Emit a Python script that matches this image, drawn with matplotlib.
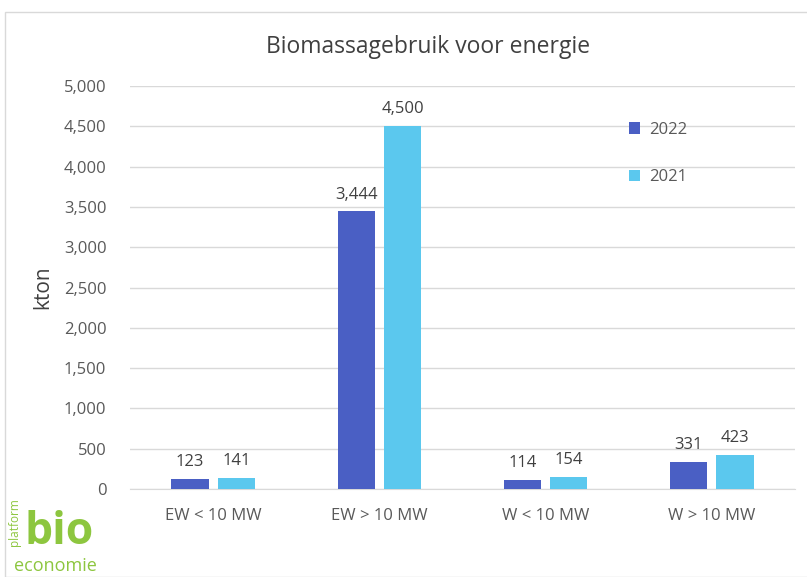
import matplotlib
matplotlib.use("Agg")
import matplotlib.pyplot as plt
from matplotlib.patches import Rectangle
from matplotlib.ticker import FuncFormatter
import numpy as np

categories = ["EW < 10 MW", "EW > 10 MW", "W < 10 MW", "W > 10 MW"]
values_2022 = [123, 3444, 114, 331]
values_2021 = [141, 4500, 154, 423]
series_labels = ["2022", "2021"]

plt.rcParams['font.family'] = ['Open Sans', 'DejaVu Sans']

fig = plt.figure(figsize=(8.07, 5.77), dpi=100)
fig.patches.append(Rectangle((5/807, 0), 1, 1 - 12/577, transform=fig.transFigure,
                             fill=False, edgecolor="#d9d9d9", linewidth=1))
ax = fig.add_axes([130/807, 1 - 489/577, 665/807, 403/577])

x = np.arange(len(categories))
w = 0.223
off = 0.139
b1 = ax.bar(x - off, values_2022, w, color="#4a5fc4", label=series_labels[0], zorder=3)
b2 = ax.bar(x + off, values_2021, w, color="#5bc8ee", label=series_labels[1], zorder=3)

for bars, vals in ((b1, values_2022), (b2, values_2021)):
    for r, v in zip(bars, vals):
        ax.text(r.get_x() + r.get_width()/2, v + 110, f"{v:,}", ha="center", va="bottom",
                fontsize=12, color="#404040")

ax.set_ylim(0, 5000)
ax.set_xlim(-0.5, 3.5)
ax.set_yticks(np.arange(0, 5001, 500))
ax.yaxis.set_major_formatter(FuncFormatter(lambda v, p: f"{int(v):,}"))
ax.set_xticks(x)
ax.set_xticklabels(categories)
ax.tick_params(axis="both", length=0, labelsize=12, labelcolor="#595959")
ax.tick_params(axis="x", pad=14)
ax.tick_params(axis="y", pad=17)
ax.grid(axis="y", color="#d9d9d9", linewidth=1, zorder=0)
for s in ["top", "right", "left"]:
    ax.spines[s].set_visible(False)
ax.spines["bottom"].set_color("#d9d9d9")
ax.yaxis.set_label_coords(-(130 - 43)/665, 0.5)
ax.set_ylabel("kton", fontsize=15, color="#404040", va="center")

fig.text(428/807, 1 - 47/577, "Biomassagebruik voor energie", ha="center", va="center",
         fontsize=16.5, color="#404040")

leg = ax.legend(loc="upper left", bbox_to_anchor=((622 - 130)/665, 1 - (115 - 86)/403),
                frameon=False, fontsize=12, labelspacing=1.9, handlelength=0.7,
                handleheight=0.7, handletextpad=0.5, borderaxespad=0)
for t in leg.get_texts():
    t.set_color("#595959")

# logo
fig.text(25/807, 1 - 555/577, "bio", fontsize=32, color="#8dc63f", ha="left", va="bottom",
         fontweight="bold")
fig.text(14/807, 1 - 557/577, "economie", fontsize=13, color="#8dc63f", ha="left", va="top")
fig.text(15/807, 1 - 522/577, "platform", fontsize=8.5, color="#8dc63f", rotation=90,
         ha="center", va="center")

fig.savefig("out.png", dpi=100)
